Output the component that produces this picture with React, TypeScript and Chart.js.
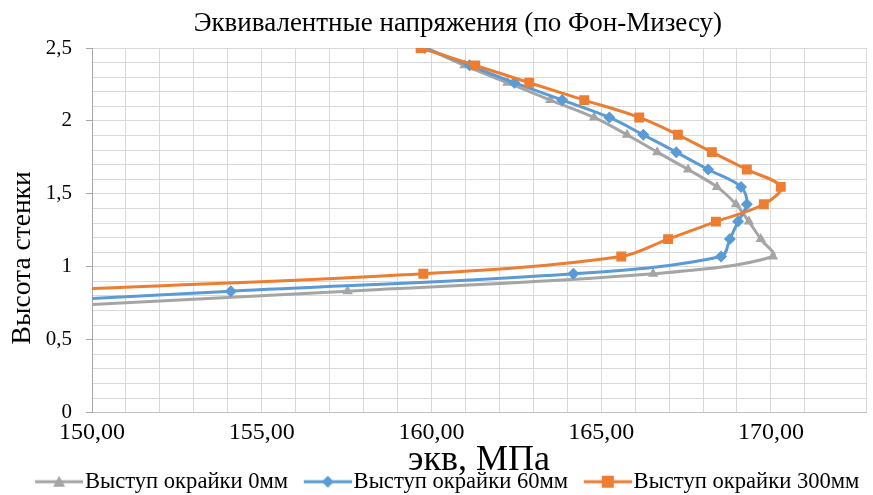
import React, { useEffect, useRef } from "react";
import { Chart, registerables } from "chart.js";

Chart.register(...registerables);

const heights = [2.5, 2.381, 2.262, 2.143, 2.024, 1.905, 1.786, 1.667, 1.548, 1.429, 1.31, 1.19, 1.071, 0.952, 0.833, 0.714];
const stress0 = [159.85, 160.97, 162.24, 163.5, 164.79, 165.76, 166.65, 167.56, 168.41, 168.97, 169.35, 169.7, 170.06, 166.53, 157.53, 147.6];
const stress60 = [159.8, 161.12, 162.44, 163.85, 165.24, 166.24, 167.21, 168.15, 169.12, 169.29, 169.03, 168.79, 168.53, 164.18, 154.09, 144.3];
const stress300 = [159.68, 161.29, 162.88, 164.5, 166.12, 167.26, 168.26, 169.29, 170.29, 169.79, 168.38, 166.97, 165.59, 159.76, 148.1, 136.4];
const seriesNames = ["Выступ окрайки 0мм", "Выступ окрайки 60мм", "Выступ окрайки 300мм"];
const titleText = "Эквивалентные напряжения (по Фон-Мизесу)";
const xTitle = "экв, МПа";
const yTitle = "Высота стенки";

const colors = ["#A5A5A5", "#5B9BD5", "#ED7D31"];
const styles = ["triangle", "rectRot", "rect"];
const radii = [6, 6, 7];
const FONT = "'Liberation Serif', 'Times New Roman', serif";
const NBSP = "\u00A0";

function makeIcon(color: string, style: string) {
  // 70px wide canvas, icon drawn in its right 48px
  const c = document.createElement("canvas");
  c.width = 70;
  c.height = 16;
  const ctx = c.getContext("2d")!;
  const o = 22;
  ctx.strokeStyle = color;
  ctx.lineWidth = 3;
  ctx.beginPath();
  ctx.moveTo(o, 8);
  ctx.lineTo(o + 48, 8);
  ctx.stroke();
  ctx.fillStyle = color;
  ctx.beginPath();
  const cx = o + 24;
  if (style === "triangle") {
    ctx.moveTo(cx, 2);
    ctx.lineTo(cx + 6, 13);
    ctx.lineTo(cx - 6, 13);
    ctx.closePath();
  } else if (style === "rectRot") {
    ctx.moveTo(cx, 2);
    ctx.lineTo(cx + 6, 8);
    ctx.lineTo(cx, 14);
    ctx.lineTo(cx - 6, 8);
    ctx.closePath();
  } else {
    ctx.rect(cx - 6, 2, 12, 12);
  }
  ctx.fill();
  return c;
}

export default function App() {
  const ref = useRef<HTMLCanvasElement>(null);
  useEffect(() => {
    const icons = colors.map((c, i) => makeIcon(c, styles[i]));
    const all = [stress0, stress60, stress300];
    const chart = new Chart(ref.current!, {
      type: "scatter",
      data: {
        datasets: all.map((s, i) => ({
          label: seriesNames[i],
          data: s.map((x, k) => ({ x, y: heights[k] })),
          showLine: true,
          tension: 0.35,
          borderColor: colors[i],
          backgroundColor: colors[i],
          borderWidth: 3,
          pointStyle: styles[i] as any,
          pointRadius: radii[i],
          pointHoverRadius: radii[i],
          pointBorderWidth: 0,
          order: 3 - i,
        })),
      },
      options: {
        animation: false,
        responsive: false,
        maintainAspectRatio: false,
        layout: { padding: { left: 16, right: 7, top: 0, bottom: -8 } },
        plugins: {
          tooltip: { enabled: false },
          title: {
            display: true,
            text: NBSP.repeat(5) + titleText,
            color: "#000",
            font: { family: FONT, size: 27, weight: "normal" },
            padding: { top: 8, bottom: 7.6 },
          },
          legend: {
            position: "bottom",
            labels: {
              usePointStyle: true,
              pointStyleWidth: 51,
              color: "#000",
              font: { family: FONT, size: 22.6 },
              padding: 3.2,
              sort: (a: any, b: any) => a.datasetIndex - b.datasetIndex,
              generateLabels: (ch: any) => {
                const items = (Chart.defaults.plugins.legend.labels as any).generateLabels(ch);
                return items.map((it: any) => ({ ...it, pointStyle: icons[it.datasetIndex], rotation: 0 }));
              },
            },
          },
        },
        scales: {
          x: {
            type: "linear",
            min: 150,
            max: 172.8,
            afterFit: (s: any) => {
              s.height = 54.5;
            },
            title: {
              display: true,
              text: xTitle,
              color: "#000",
              font: { family: FONT, size: 36 },
              padding: { top: 0, bottom: -15.4 },
            },
            ticks: {
              stepSize: 1,
              autoSkip: false,
              maxRotation: 0,
              color: "#000",
              font: { family: FONT, size: 24 },
              padding: 0,
              callback: (v: any) => {
                const n = Number(v);
                if (Math.abs(n / 5 - Math.round(n / 5)) < 1e-6) return n.toFixed(2).replace(".", ",");
                return "";
              },
            },
            grid: {
              color: "#D9D9D9",
              lineWidth: 1,
              drawTicks: true,
              tickLength: 6,
              tickColor: "rgba(0,0,0,0)",
            },
            border: { display: true, color: "#BFBFBF", width: 1 },
          },
          y: {
            type: "linear",
            min: 0,
            max: 2.5,
            afterFit: (s: any) => {
              s.width = 76;
            },
            title: {
              display: true,
              text: yTitle + NBSP.repeat(8),
              color: "#000",
              font: { family: FONT, size: 27.5 },
              padding: { top: -10, bottom: 0 },
            },
            ticks: {
              stepSize: 0.1,
              autoSkip: false,
              color: "#000",
              font: { family: FONT, size: 21 },
              padding: 14,
              callback: (v: any) => {
                const n = Number(v);
                if (Math.abs(n * 2 - Math.round(n * 2)) < 1e-6) return String(Math.round(n * 10) / 10).replace(".", ",");
                return "";
              },
            },
            grid: {
              color: "#D9D9D9",
              lineWidth: 1,
              drawTicks: true,
              tickLength: 6,
              tickColor: (ctx: any) => {
                const n = ctx.tick ? ctx.tick.value : 0;
                return Math.abs(n * 2 - Math.round(n * 2)) < 1e-6 ? "#A6A6A6" : "rgba(0,0,0,0)";
              },
            },
            border: { display: true, color: "#A6A6A6", width: 1 },
          },
        },
      },
    });
    return () => chart.destroy();
  }, []);
  return (
    <div style={{ position: "fixed", left: 0, top: 0, width: 873, height: 495, background: "#fff" }}>
      <canvas ref={ref} width={873} height={495} style={{ width: 873, height: 495, display: "block" }} />
    </div>
  );
}
